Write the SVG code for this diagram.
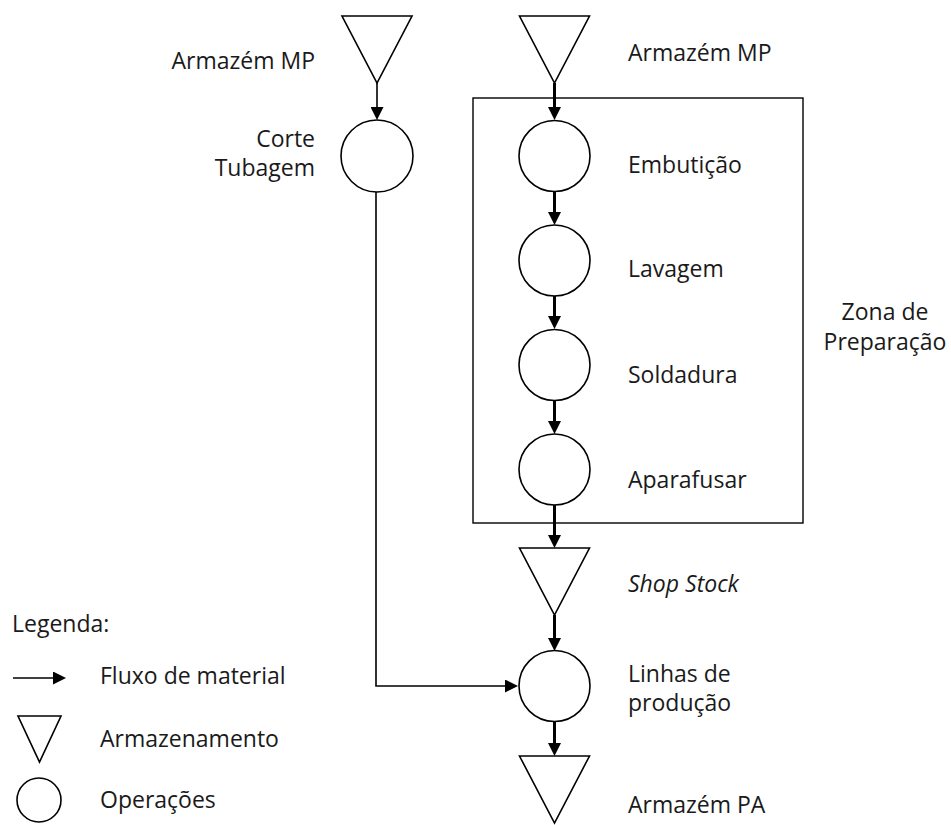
<svg xmlns="http://www.w3.org/2000/svg" width="951" height="825" viewBox="0 0 951 825">
  <defs>
    <style>
      .shape { fill: #ffffff; stroke: #000000; stroke-width: 1.6; }
      .zone { fill: none; stroke: #000000; stroke-width: 1.4; }
      .flow { fill: none; stroke: #000000; stroke-width: 3; }
      .flow-thin { fill: none; stroke: #000000; stroke-width: 1.6; }
      text { font-family: "Open Sans", "Noto Sans", "DejaVu Sans", sans-serif; font-size: 23px; fill: #1a1a1a; }
      .end { text-anchor: end; }
      .mid { text-anchor: middle; }
      .it { font-style: italic; }
    </style>
    <marker id="head" markerUnits="userSpaceOnUse" markerWidth="14" markerHeight="13" refX="1" refY="6.5" orient="auto">
      <path d="M0,0 L13,6.5 L0,13 Z" fill="#000000"/>
    </marker>
  </defs>

  <!-- preparation zone frame -->
  <g id="zona-preparacao">
    <rect class="zone" x="473" y="98" width="330" height="425"/>
    <text class="mid" x="885" y="320">Zona de<tspan x="885" dy="29.5">Preparação</tspan></text>
  </g>

  <!-- connectors -->
  <g id="connectors">
    <line class="flow-thin" x1="377" y1="83" x2="377" y2="108" marker-end="url(#head)"/>
    <polyline class="flow-thin" points="376,192 376,686 506,686" marker-end="url(#head)"/>
    <line class="flow" x1="554.5" y1="83" x2="554.5" y2="108" marker-end="url(#head)"/>
    <line class="flow" x1="554.5" y1="192" x2="554.5" y2="213" marker-end="url(#head)"/>
    <line class="flow" x1="554.5" y1="296" x2="554.5" y2="317" marker-end="url(#head)"/>
    <line class="flow" x1="554.5" y1="401" x2="554.5" y2="422" marker-end="url(#head)"/>
    <line class="flow" x1="554.5" y1="505" x2="554.5" y2="536" marker-end="url(#head)"/>
    <line class="flow" x1="554.5" y1="615" x2="554.5" y2="639" marker-end="url(#head)"/>
    <line class="flow" x1="554.5" y1="721" x2="554.5" y2="744" marker-end="url(#head)"/>
  </g>

  <!-- left column -->
  <g id="armazem-mp-1">
    <polygon class="shape" points="342,16 412,16 377,83"/>
    <text class="end" x="315" y="69">Armazém MP</text>
  </g>
  <g id="corte-tubagem">
    <circle class="shape" cx="377" cy="156" r="36"/>
    <text class="end" x="315" y="147">Corte<tspan x="315" dy="29">Tubagem</tspan></text>
  </g>

  <!-- right column -->
  <g id="armazem-mp-2">
    <polygon class="shape" points="519.5,16 589.5,16 554.5,83"/>
    <text x="628" y="61">Armazém MP</text>
  </g>
  <g id="embuticao">
    <circle class="shape" cx="554.5" cy="156" r="35.5"/>
    <text x="628" y="173">Embutição</text>
  </g>
  <g id="lavagem">
    <circle class="shape" cx="554.5" cy="260.5" r="35.5"/>
    <text x="628" y="277">Lavagem</text>
  </g>
  <g id="soldadura">
    <circle class="shape" cx="554.5" cy="365" r="35.5"/>
    <text x="628" y="383">Soldadura</text>
  </g>
  <g id="aparafusar">
    <circle class="shape" cx="554.5" cy="469.5" r="35.5"/>
    <text x="628" y="488">Aparafusar</text>
  </g>
  <g id="shop-stock">
    <polygon class="shape" points="519.5,548 589.5,548 554.5,615"/>
    <text class="it" x="628" y="592">Shop Stock</text>
  </g>
  <g id="linhas-producao">
    <circle class="shape" cx="554.5" cy="686" r="35.5"/>
    <text x="628" y="681.5">Linhas de<tspan x="628" dy="29.5">produção</tspan></text>
  </g>
  <g id="armazem-pa">
    <polygon class="shape" points="519.5,756 589.5,756 554.5,823"/>
    <text x="628" y="813">Armazém PA</text>
  </g>

  <!-- legend -->
  <g id="legenda">
    <text x="12" y="632">Legenda:</text>
    <line class="flow-thin" x1="13" y1="678" x2="54" y2="678" marker-end="url(#head)"/>
    <text x="100" y="684">Fluxo de material</text>
    <polygon class="shape" points="18,716 61,716 39.5,762"/>
    <text x="100" y="747">Armazenamento</text>
    <circle class="shape" cx="39" cy="800" r="22"/>
    <text x="100" y="808">Operações</text>
  </g>
</svg>
